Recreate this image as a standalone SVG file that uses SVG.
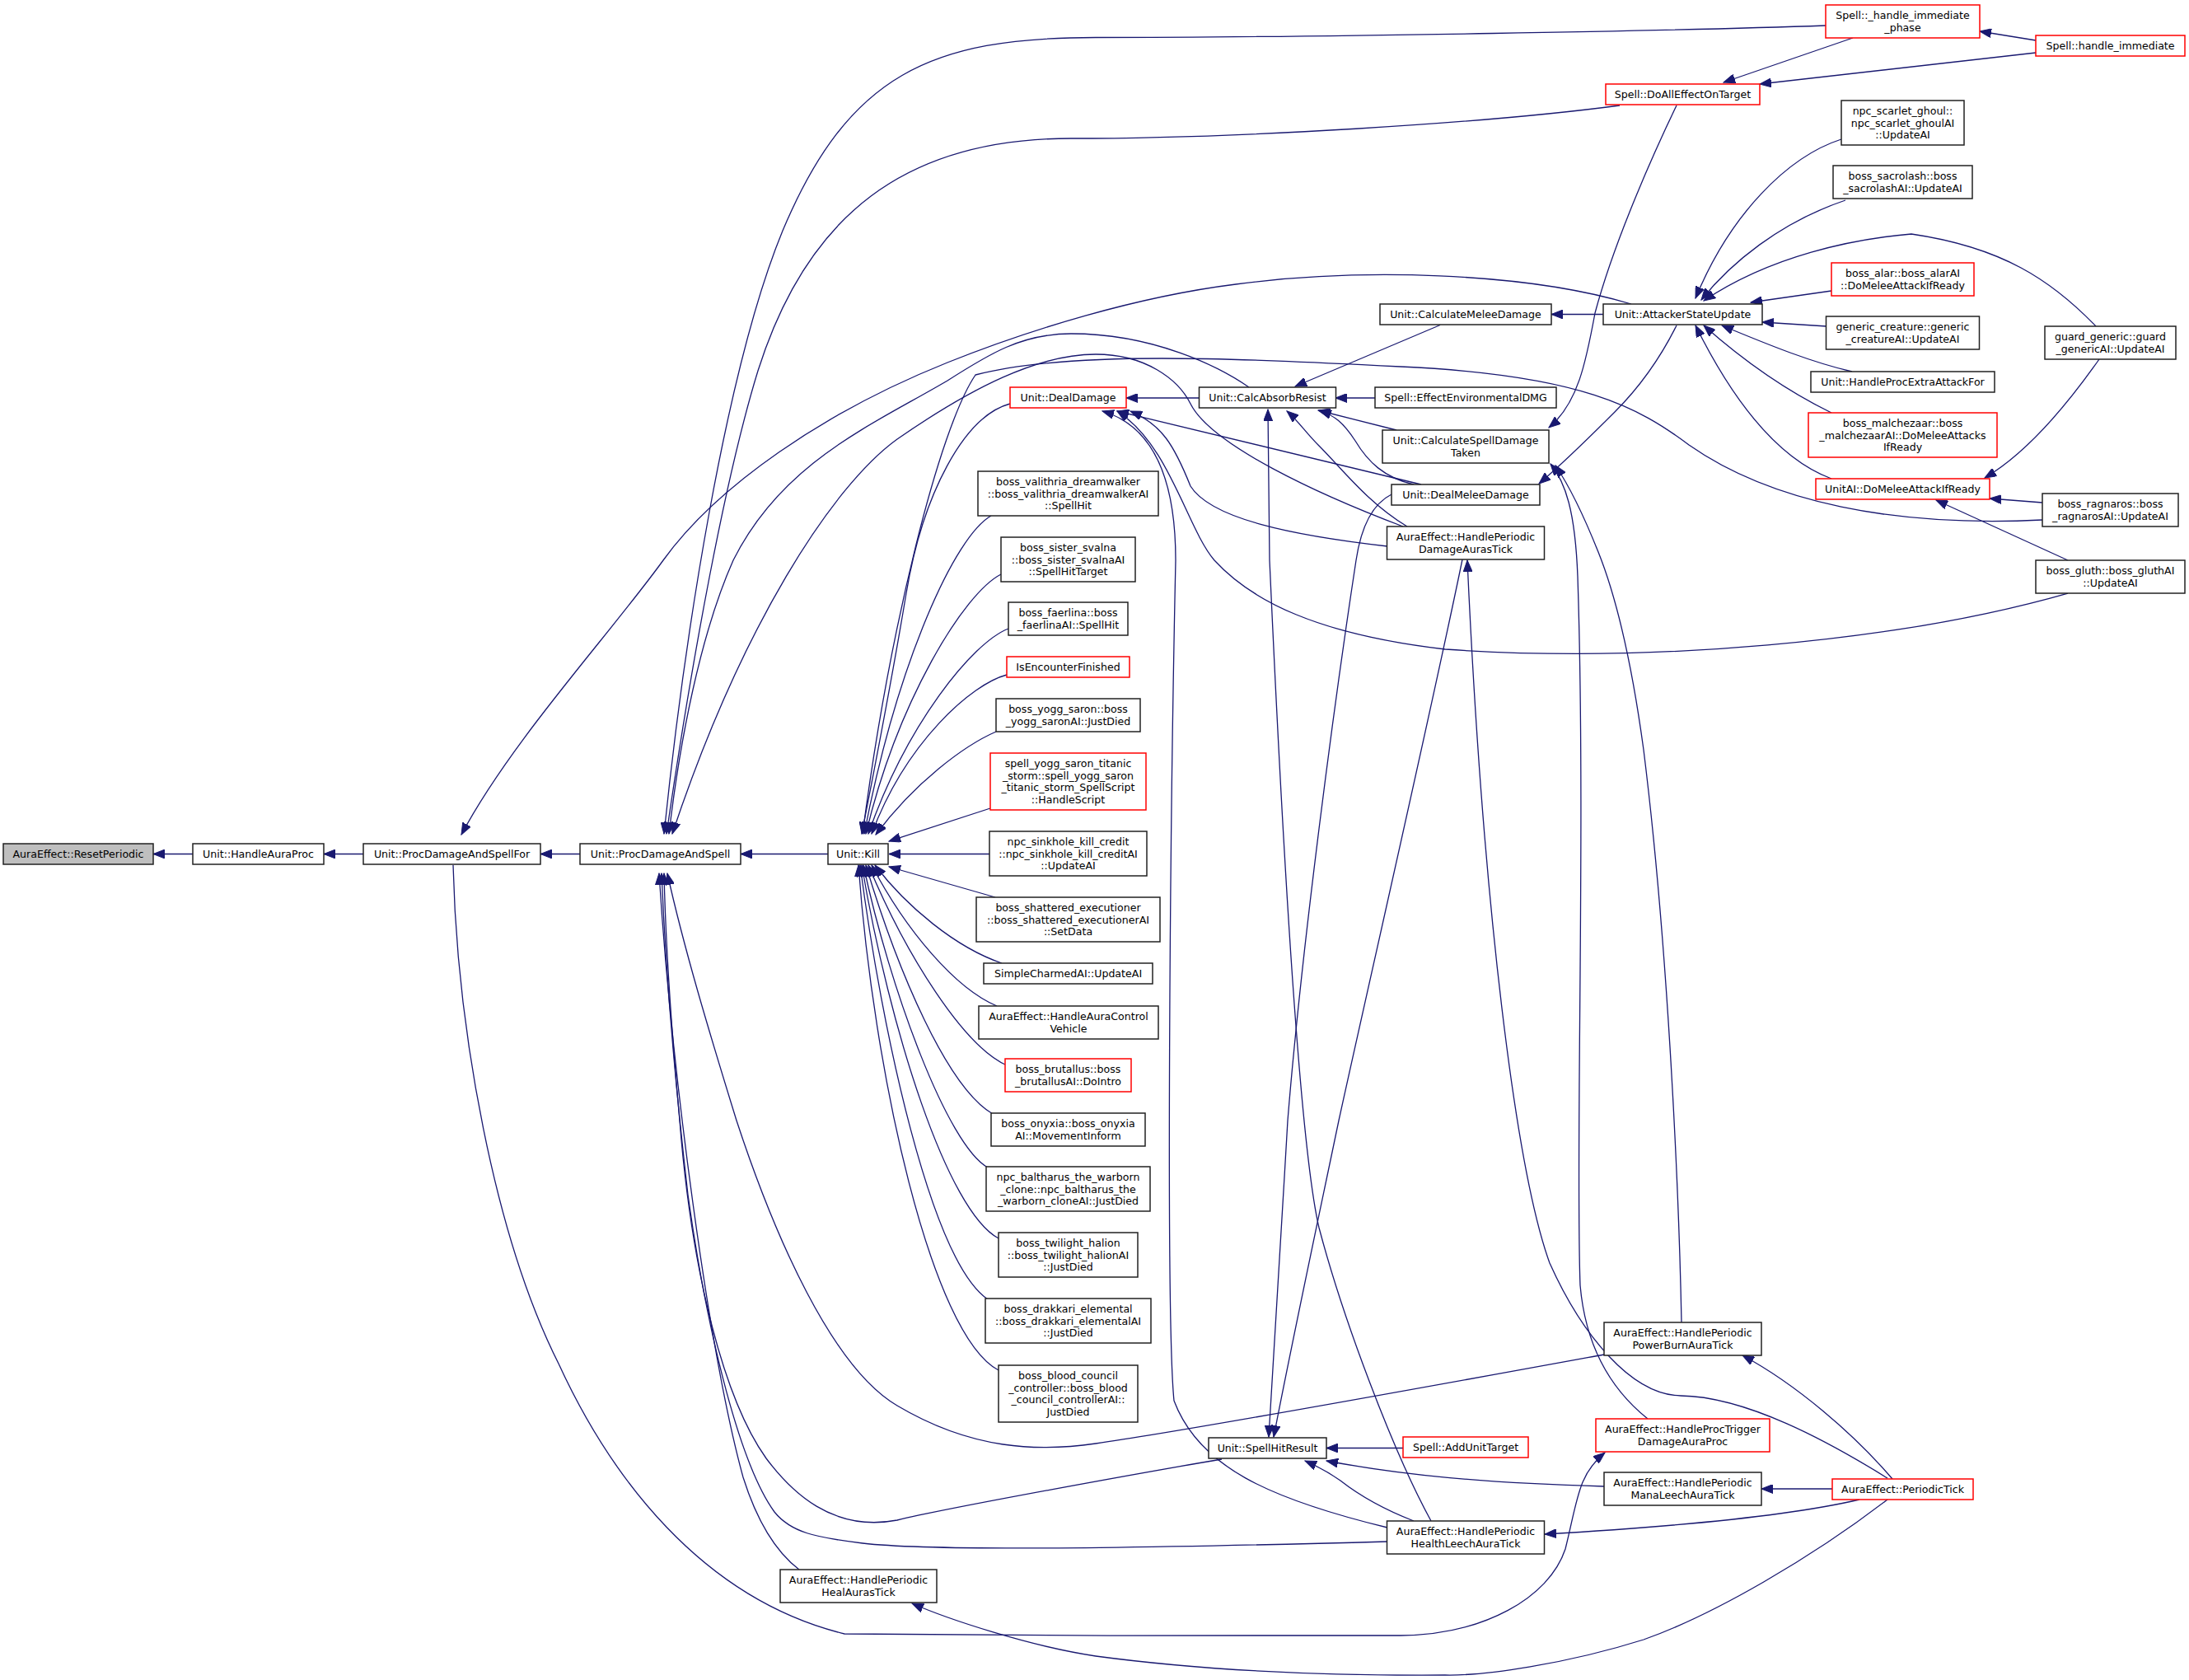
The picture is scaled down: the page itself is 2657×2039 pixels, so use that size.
<svg xmlns="http://www.w3.org/2000/svg" width="2657" height="2039" viewBox="0 0 2657 2039">
<defs>
<marker id="a" markerUnits="userSpaceOnUse" markerWidth="15" markerHeight="11" refX="14" refY="5.5" orient="auto"><path d="M0,0 L14,5.5 L0,11 z" fill="#191970" stroke="#191970" stroke-width="1"/></marker>
<style>
rect{fill:#fff;stroke:#222;stroke-width:1.5}
rect.r{stroke:#ff0000}
rect.g{fill:#bfbfbf}
text{font-family:"DejaVu Sans","Liberation Sans",sans-serif;font-size:12.6px;text-anchor:middle;fill:#000}
#edges path{fill:none;stroke:#191970;stroke-width:1.3;marker-end:url(#a)}
</style>
</defs>
<rect x="0" y="0" width="2657" height="2039" style="fill:#fff;stroke:none"/>
<g id="edges">
<path d="M234,1036.5 L186,1036.5"/>
<path d="M441,1036.5 L393,1036.5"/>
<path d="M704,1036.5 L656,1036.5"/>
<path d="M1005,1036.5 L899,1036.5"/>
<path d="M2216,31 C2050,37 1600,45.5 1330,45.5 C1130,45.5 1030,90 950,280 C880,450 830,780 806,1012"/>
<path d="M1966,128 C1800,150 1500,168 1300,168 C1100,168 980,260 920,450 C880,580 840,800 809,1012"/>
<path d="M1980,369 C1850,330 1650,325 1500,345 C1380,360 1250,400 1150,440 C1000,500 870,590 805,680 C740,770 620,900 560,1013"/>
<path d="M1516,470 C1480,445 1400,405 1300,405 C1240,405 1200,430 1150,462 C1060,515 950,560 890,680 C850,770 825,900 812,1012"/>
<path d="M1703,639 C1600,600 1470,540 1445,490 C1430,460 1390,430 1330,430 C1260,430 1180,470 1089,533 C1010,590 900,760 816,1012"/>
<path d="M2479,631 C2300,640 2150,610 2050,540 C1990,495 1920,455 1700,445 C1500,435 1300,425 1184,455 C1140,520 1080,760 1047,1012"/>
<path d="M2510,720 C2300,780 2000,805 1754,788 C1600,770 1520,730 1474,680 C1440,640 1420,540 1356,499"/>
<path d="M1684,1854 C1540,1819 1455,1780 1425,1700 C1415,1600 1420,1000 1427,680 C1427,600 1410,520 1338,499"/>
<path d="M1725,588 L1356,499"/>
<path d="M1684,663 C1570,650 1470,630 1445,590 C1425,540 1410,515 1372,499"/>
<path d="M1775,679 C1740,850 1660,1200 1625,1360 C1600,1480 1570,1620 1546,1744"/>
<path d="M1689,600 C1665,612 1652,640 1646,680 C1620,850 1580,1150 1563,1360 C1555,1500 1545,1650 1540,1744"/>
<path d="M1737,1846 C1690,1760 1630,1600 1601,1490 C1580,1400 1560,1100 1541,680 L1539,497"/>
<path d="M1716,1846 C1680,1832 1650,1815 1627,1797 C1610,1785 1600,1780 1584,1773"/>
<path d="M1947,1804 C1800,1800 1700,1790 1610,1773"/>
<path d="M1703,1757.5 L1610,1757.5"/>
<path d="M1483,1771 C1400,1785 1150,1830 1089,1845 C1010,1860 960,1810 930,1770 C880,1700 840,1550 825,1360 C815,1250 808,1150 806,1060"/>
<path d="M1684,1871 C1500,1876 1150,1885 1047,1873 C990,1866 960,1860 940,1835 C900,1780 860,1630 835,1450 C820,1320 808,1180 803,1060"/>
<path d="M970,1905 C945,1886 920,1850 902,1793 C860,1640 815,1300 800,1060"/>
<path d="M1947,1644 C1750,1680 1450,1735 1330,1752 C1260,1762 1180,1760 1089,1706 C1010,1660 940,1500 894,1360 C860,1250 830,1150 810,1060"/>
<path d="M550,1050 C555,1250 600,1500 678,1655 C740,1790 850,1940 1025,1983 C1200,1985 1550,1986 1700,1985 C1800,1984 1880,1940 1900,1880 C1915,1820 1915,1790 1948,1763"/>
<path d="M2291,1820 C2200,1890 2080,1960 1995,1990 C1900,2020 1800,2034 1754,2033 C1600,2034 1457,2027 1330,2010 C1250,1998 1150,1965 1107,1946"/>
<path d="M2257,1820 C2180,1838 2050,1852 1875,1862"/>
<path d="M2224,1807 L2138,1807"/>
<path d="M2297,1795 C2250,1740 2180,1680 2115,1645"/>
<path d="M2291,1794 C2220,1750 2120,1695 2040,1694 C1980,1693 1920,1620 1881,1533 C1840,1420 1800,1100 1781,680"/>
<path d="M2000,1722 C1960,1690 1925,1640 1918,1560 C1912,1400 1925,1000 1915,700 C1912,620 1900,585 1882,563"/>
<path d="M2041,1605 C2038,1450 2025,1150 1995,910 C1980,800 1960,720 1940,670 C1920,620 1905,590 1888,565"/>
<path d="M2035,128 C2010,180 1960,290 1936,380 C1925,440 1915,490 1880,519"/>
<path d="M2035,395 C2015,435 1990,470 1960,500 C1930,530 1900,560 1868,587"/>
<path d="M1946,381.5 L1883,381.5"/>
<path d="M1748,394.5 L1572,469"/>
<path d="M1669,483 L1621,483"/>
<path d="M1455,483 L1367,483"/>
<path d="M1695,522 L1600,498"/>
<path d="M1716,588 C1680,580 1660,560 1645,535 C1630,512 1620,505 1602,498"/>
<path d="M1708,639 C1660,610 1630,570 1600,540 C1585,525 1575,510 1562,499"/>
<path d="M2249,46 L2092,100"/>
<path d="M2471,49 L2403,38"/>
<path d="M2471,64 L2136,102"/>
<path d="M2235,169 C2170,190 2100,260 2058,362"/>
<path d="M2240,243 C2160,270 2100,320 2065,364"/>
<path d="M2544,396 C2490,340 2430,300 2320,284 C2250,290 2150,310 2068,365"/>
<path d="M2223,353 L2125,367"/>
<path d="M2217,396 L2139,391"/>
<path d="M2248,451 C2200,440 2150,420 2090,395"/>
<path d="M2223,501 C2180,480 2130,450 2068,395"/>
<path d="M2223,581 C2180,565 2120,520 2058,395"/>
<path d="M2548,436 C2510,490 2460,550 2409,580"/>
<path d="M2479,610 L2415,605"/>
<path d="M2510,680 L2350,607"/>
<path d="M1226,490 C1170,505 1120,600 1100,720 C1080,840 1060,940 1046,1012"/>
<path d="M1203,626 C1160,650 1090,800 1049,1012"/>
<path d="M1215,697 C1170,720 1090,850 1051,1012"/>
<path d="M1224,763 C1180,780 1100,880 1054,1012"/>
<path d="M1222,819 C1180,830 1100,900 1058,1012"/>
<path d="M1209,888 C1170,905 1110,950 1063,1013"/>
<path d="M1202,981 L1079,1021"/>
<path d="M1201,1036.5 L1079,1036.5"/>
<path d="M1208,1089 L1079,1052"/>
<path d="M1216,1169 C1160,1150 1100,1100 1062,1050"/>
<path d="M1210,1221 C1160,1200 1100,1130 1058,1050"/>
<path d="M1222,1293 C1170,1270 1100,1160 1054,1050"/>
<path d="M1205,1352 C1150,1320 1090,1180 1051,1050"/>
<path d="M1199,1417 C1150,1390 1080,1200 1048,1050"/>
<path d="M1212,1503 C1150,1470 1080,1250 1046,1050"/>
<path d="M1199,1577 C1130,1530 1070,1250 1044,1050"/>
<path d="M1212,1663 C1130,1620 1060,1300 1042,1050"/>
</g>
<g id="n_resetperiodic"><rect class="g" x="4" y="1024" width="182" height="25"/><text x="95" y="1041">AuraEffect::ResetPeriodic</text></g>
<g id="n_handleauraproc"><rect x="234" y="1024" width="159" height="25"/><text x="313.5" y="1041">Unit::HandleAuraProc</text></g>
<g id="n_pdasfor"><rect x="441" y="1024" width="215" height="25"/><text x="548.5" y="1041">Unit::ProcDamageAndSpellFor</text></g>
<g id="n_pdas"><rect x="704" y="1024" width="195" height="25"/><text x="801.5" y="1041">Unit::ProcDamageAndSpell</text></g>
<g id="n_kill"><rect x="1005" y="1024" width="73" height="25"/><text x="1041.5" y="1041">Unit::Kill</text></g>
<g id="n_healauras"><rect x="947" y="1905" width="190" height="40"/><text x="1042" y="1922.25">AuraEffect::HandlePeriodic</text><text x="1042" y="1936.75">HealAurasTick</text></g>
<g id="n_dealdamage"><rect class="r" x="1226" y="470" width="141" height="25"/><text x="1296.5" y="487">Unit::DealDamage</text></g>
<g id="n_valithria"><rect x="1187" y="572" width="219" height="54"/><text x="1296.5" y="589">boss_valithria_dreamwalker</text><text x="1296.5" y="603.5">::boss_valithria_dreamwalkerAI</text><text x="1296.5" y="618">::SpellHit</text></g>
<g id="n_svalna"><rect x="1215" y="652" width="163" height="54"/><text x="1296.5" y="669">boss_sister_svalna</text><text x="1296.5" y="683.5">::boss_sister_svalnaAI</text><text x="1296.5" y="698">::SpellHitTarget</text></g>
<g id="n_faerlina"><rect x="1224" y="731" width="145" height="40"/><text x="1296.5" y="748.25">boss_faerlina::boss</text><text x="1296.5" y="762.75">_faerlinaAI::SpellHit</text></g>
<g id="n_isencounter"><rect class="r" x="1222" y="797" width="149" height="25"/><text x="1296.5" y="814">IsEncounterFinished</text></g>
<g id="n_yogg"><rect x="1209" y="848" width="175" height="40"/><text x="1296.5" y="865.25">boss_yogg_saron::boss</text><text x="1296.5" y="879.75">_yogg_saronAI::JustDied</text></g>
<g id="n_spellyogg"><rect class="r" x="1202" y="914" width="189" height="69"/><text x="1296.5" y="931.25">spell_yogg_saron_titanic</text><text x="1296.5" y="945.75">_storm::spell_yogg_saron</text><text x="1296.5" y="960.25">_titanic_storm_SpellScript</text><text x="1296.5" y="974.75">::HandleScript</text></g>
<g id="n_sinkhole"><rect x="1201" y="1009" width="191" height="54"/><text x="1296.5" y="1026">npc_sinkhole_kill_credit</text><text x="1296.5" y="1040.5">::npc_sinkhole_kill_creditAI</text><text x="1296.5" y="1055">::UpdateAI</text></g>
<g id="n_shattered"><rect x="1185" y="1089" width="223" height="54"/><text x="1296.5" y="1106">boss_shattered_executioner</text><text x="1296.5" y="1120.5">::boss_shattered_executionerAI</text><text x="1296.5" y="1135">::SetData</text></g>
<g id="n_simplecharmed"><rect x="1194" y="1169" width="205" height="25"/><text x="1296.5" y="1186">SimpleCharmedAI::UpdateAI</text></g>
<g id="n_auracontrol"><rect x="1188" y="1221" width="218" height="40"/><text x="1297" y="1238.25">AuraEffect::HandleAuraControl</text><text x="1297" y="1252.75">Vehicle</text></g>
<g id="n_brutallus"><rect class="r" x="1220" y="1285" width="153" height="40"/><text x="1296.5" y="1302.25">boss_brutallus::boss</text><text x="1296.5" y="1316.75">_brutallusAI::DoIntro</text></g>
<g id="n_onyxia"><rect x="1203" y="1351" width="187" height="40"/><text x="1296.5" y="1368.25">boss_onyxia::boss_onyxia</text><text x="1296.5" y="1382.75">AI::MovementInform</text></g>
<g id="n_baltharus"><rect x="1197" y="1416" width="199" height="54"/><text x="1296.5" y="1433">npc_baltharus_the_warborn</text><text x="1296.5" y="1447.5">_clone::npc_baltharus_the</text><text x="1296.5" y="1462">_warborn_cloneAI::JustDied</text></g>
<g id="n_halion"><rect x="1212" y="1496" width="169" height="54"/><text x="1296.5" y="1513">boss_twilight_halion</text><text x="1296.5" y="1527.5">::boss_twilight_halionAI</text><text x="1296.5" y="1542">::JustDied</text></g>
<g id="n_drakkari"><rect x="1196" y="1576" width="201" height="54"/><text x="1296.5" y="1593">boss_drakkari_elemental</text><text x="1296.5" y="1607.5">::boss_drakkari_elementalAI</text><text x="1296.5" y="1622">::JustDied</text></g>
<g id="n_bloodcouncil"><rect x="1212" y="1657" width="169" height="69"/><text x="1296.5" y="1674.25">boss_blood_council</text><text x="1296.5" y="1688.75">_controller::boss_blood</text><text x="1296.5" y="1703.25">_council_controllerAI::</text><text x="1296.5" y="1717.75">JustDied</text></g>
<g id="n_calcmelee"><rect x="1675" y="369" width="208" height="25"/><text x="1779" y="386">Unit::CalculateMeleeDamage</text></g>
<g id="n_calcabsorb"><rect x="1455.5" y="470" width="166" height="25"/><text x="1538.5" y="487">Unit::CalcAbsorbResist</text></g>
<g id="n_envdmg"><rect x="1669" y="470" width="220" height="25"/><text x="1779" y="487">Spell::EffectEnvironmentalDMG</text></g>
<g id="n_calcspell"><rect x="1678" y="522" width="202" height="40"/><text x="1779" y="539.25">Unit::CalculateSpellDamage</text><text x="1779" y="553.75">Taken</text></g>
<g id="n_dealmelee"><rect x="1689" y="588" width="180" height="25"/><text x="1779" y="605">Unit::DealMeleeDamage</text></g>
<g id="n_perdamage"><rect x="1683.5" y="639" width="191" height="40"/><text x="1779" y="656.25">AuraEffect::HandlePeriodic</text><text x="1779" y="670.75">DamageAurasTick</text></g>
<g id="n_spellhit"><rect x="1467" y="1745" width="143" height="25"/><text x="1538.5" y="1762">Unit::SpellHitResult</text></g>
<g id="n_addunit"><rect class="r" x="1703" y="1744" width="152" height="25"/><text x="1779" y="1761">Spell::AddUnitTarget</text></g>
<g id="n_healthleech"><rect x="1683.5" y="1846" width="191" height="40"/><text x="1779" y="1863.25">AuraEffect::HandlePeriodic</text><text x="1779" y="1877.75">HealthLeechAuraTick</text></g>
<g id="n_doall"><rect class="r" x="1949" y="102" width="187" height="25"/><text x="2042.5" y="119">Spell::DoAllEffectOnTarget</text></g>
<g id="n_attacker"><rect x="1946" y="369" width="193" height="25"/><text x="2042.5" y="386">Unit::AttackerStateUpdate</text></g>
<g id="n_powerburn"><rect x="1947" y="1605" width="191" height="40"/><text x="2042.5" y="1622.25">AuraEffect::HandlePeriodic</text><text x="2042.5" y="1636.75">PowerBurnAuraTick</text></g>
<g id="n_proctrigger"><rect class="r" x="1937" y="1722" width="211" height="40"/><text x="2042.5" y="1739.25">AuraEffect::HandleProcTrigger</text><text x="2042.5" y="1753.75">DamageAuraProc</text></g>
<g id="n_manaleech"><rect x="1947" y="1787" width="191" height="40"/><text x="2042.5" y="1804.25">AuraEffect::HandlePeriodic</text><text x="2042.5" y="1818.75">ManaLeechAuraTick</text></g>
<g id="n_hiphase"><rect class="r" x="2216" y="6" width="187" height="40"/><text x="2309.5" y="23.25">Spell::_handle_immediate</text><text x="2309.5" y="37.75">_phase</text></g>
<g id="n_scarlet"><rect x="2235" y="122" width="149" height="54"/><text x="2309.5" y="139">npc_scarlet_ghoul::</text><text x="2309.5" y="153.5">npc_scarlet_ghoulAI</text><text x="2309.5" y="168">::UpdateAI</text></g>
<g id="n_sacrolash"><rect x="2225" y="201" width="169" height="40"/><text x="2309.5" y="218.25">boss_sacrolash::boss</text><text x="2309.5" y="232.75">_sacrolashAI::UpdateAI</text></g>
<g id="n_alar"><rect class="r" x="2223" y="319" width="173" height="40"/><text x="2309.5" y="336.25">boss_alar::boss_alarAI</text><text x="2309.5" y="350.75">::DoMeleeAttackIfReady</text></g>
<g id="n_generic"><rect x="2216.5" y="384" width="186" height="40"/><text x="2309.5" y="401.25">generic_creature::generic</text><text x="2309.5" y="415.75">_creatureAI::UpdateAI</text></g>
<g id="n_extraattack"><rect x="2198" y="451" width="223" height="25"/><text x="2309.5" y="468">Unit::HandleProcExtraAttackFor</text></g>
<g id="n_malchezaar"><rect class="r" x="2195" y="501" width="229" height="54"/><text x="2309.5" y="518">boss_malchezaar::boss</text><text x="2309.5" y="532.5">_malchezaarAI::DoMeleeAttacks</text><text x="2309.5" y="547">IfReady</text></g>
<g id="n_unitai"><rect class="r" x="2204" y="581" width="211" height="25"/><text x="2309.5" y="598">UnitAI::DoMeleeAttackIfReady</text></g>
<g id="n_periodictick"><rect class="r" x="2224" y="1795" width="171" height="25"/><text x="2309.5" y="1812">AuraEffect::PeriodicTick</text></g>
<g id="n_handleimm"><rect class="r" x="2471" y="43" width="181" height="25"/><text x="2561.5" y="60">Spell::handle_immediate</text></g>
<g id="n_guard"><rect x="2482" y="396" width="159" height="40"/><text x="2561.5" y="413.25">guard_generic::guard</text><text x="2561.5" y="427.75">_genericAI::UpdateAI</text></g>
<g id="n_ragnaros"><rect x="2479" y="599" width="165" height="40"/><text x="2561.5" y="616.25">boss_ragnaros::boss</text><text x="2561.5" y="630.75">_ragnarosAI::UpdateAI</text></g>
<g id="n_gluth"><rect x="2471" y="680" width="181" height="40"/><text x="2561.5" y="697.25">boss_gluth::boss_gluthAI</text><text x="2561.5" y="711.75">::UpdateAI</text></g>
</svg>
